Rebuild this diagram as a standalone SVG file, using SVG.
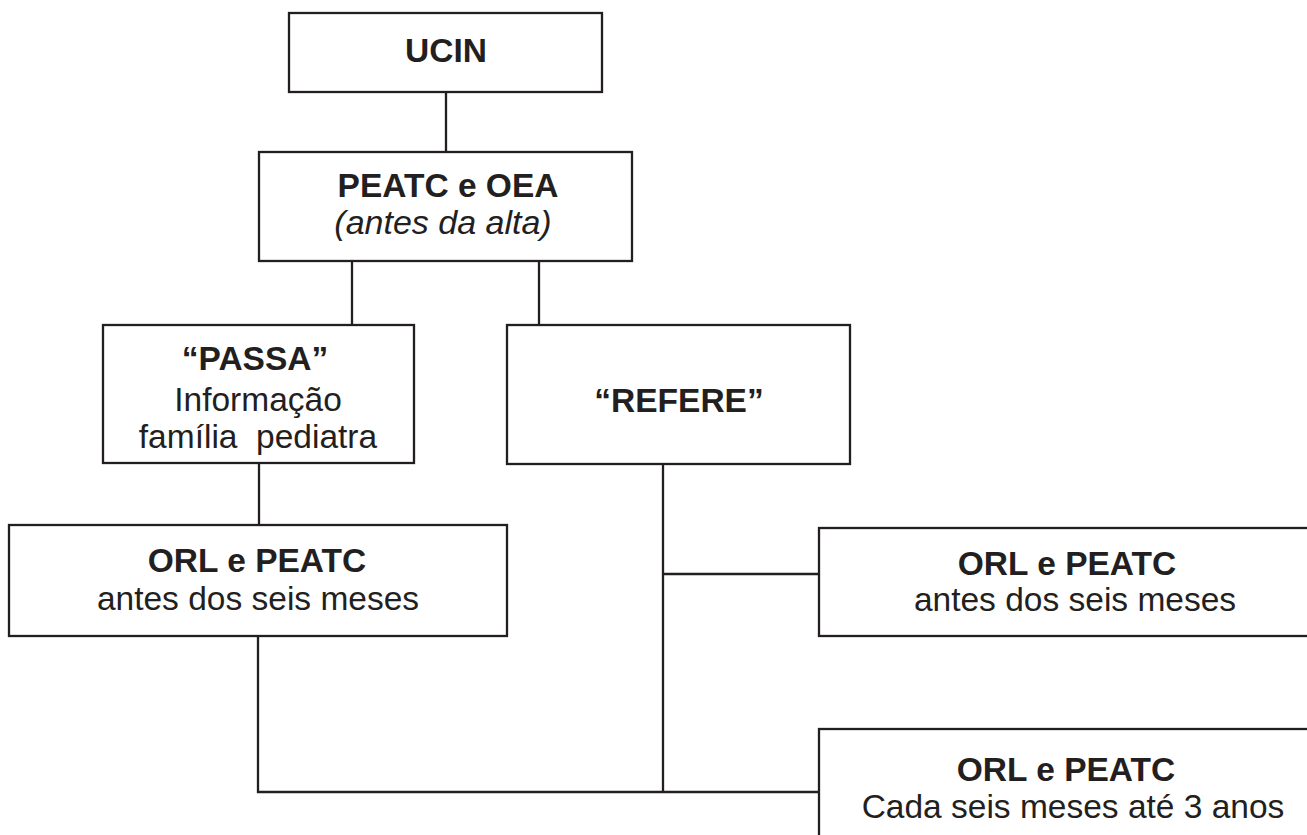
<svg xmlns="http://www.w3.org/2000/svg" width="1307" height="835" viewBox="0 0 1307 835">
<style>
.box{fill:#fff;stroke:#231f20;stroke-width:2.3}
.ln{fill:none;stroke:#231f20;stroke-width:2.3}
text{font-family:"Liberation Sans",Arial,sans-serif;font-size:33.5px;fill:#231f20;text-anchor:middle}
.b{font-weight:bold}
.i{font-style:italic;font-size:34px}
</style>
<rect width="1307" height="835" fill="#fff"/>
<g id="connectors">
<path class="ln" d="M446 92V152"/>
<path class="ln" d="M352 261V325"/>
<path class="ln" d="M539 261V325"/>
<path class="ln" d="M259 463V525"/>
<path class="ln" d="M258 636V792H819"/>
<path class="ln" d="M663 464V792"/>
<path class="ln" d="M663 574H819"/>
</g>
<g id="ucin">
<rect class="box" x="289" y="13" width="313" height="79"/>
<text class="b" x="446" y="62">UCIN</text>
</g>
<g id="peatc-oea">
<rect class="box" x="259" y="152" width="373" height="109"/>
<text class="b" x="448" y="197">PEATC e OEA</text>
<text class="i" x="443" y="234">(antes da alta)</text>
</g>
<g id="passa">
<rect class="box" x="103" y="325" width="311" height="138"/>
<text class="b" x="255" y="370">“PASSA”</text>
<text x="258" y="411">Informação</text>
<text x="258" y="448" xml:space="preserve">família  pediatra</text>
</g>
<g id="refere">
<rect class="box" x="507" y="325" width="343" height="139"/>
<text class="b" x="679" y="412">“REFERE”</text>
</g>
<g id="orl-left">
<rect class="box" x="9" y="525" width="498" height="111"/>
<text class="b" x="257" y="572">ORL e PEATC</text>
<text x="258" y="610">antes dos seis meses</text>
</g>
<g id="orl-right-1">
<rect class="box" x="819" y="528" width="500" height="108"/>
<text class="b" x="1067" y="575">ORL e PEATC</text>
<text x="1075" y="611">antes dos seis meses</text>
</g>
<g id="orl-right-2">
<rect class="box" x="819" y="729" width="500" height="120"/>
<text class="b" x="1066" y="781">ORL e PEATC</text>
<text x="1073" y="818">Cada seis meses até 3 anos</text>
</g>
</svg>
